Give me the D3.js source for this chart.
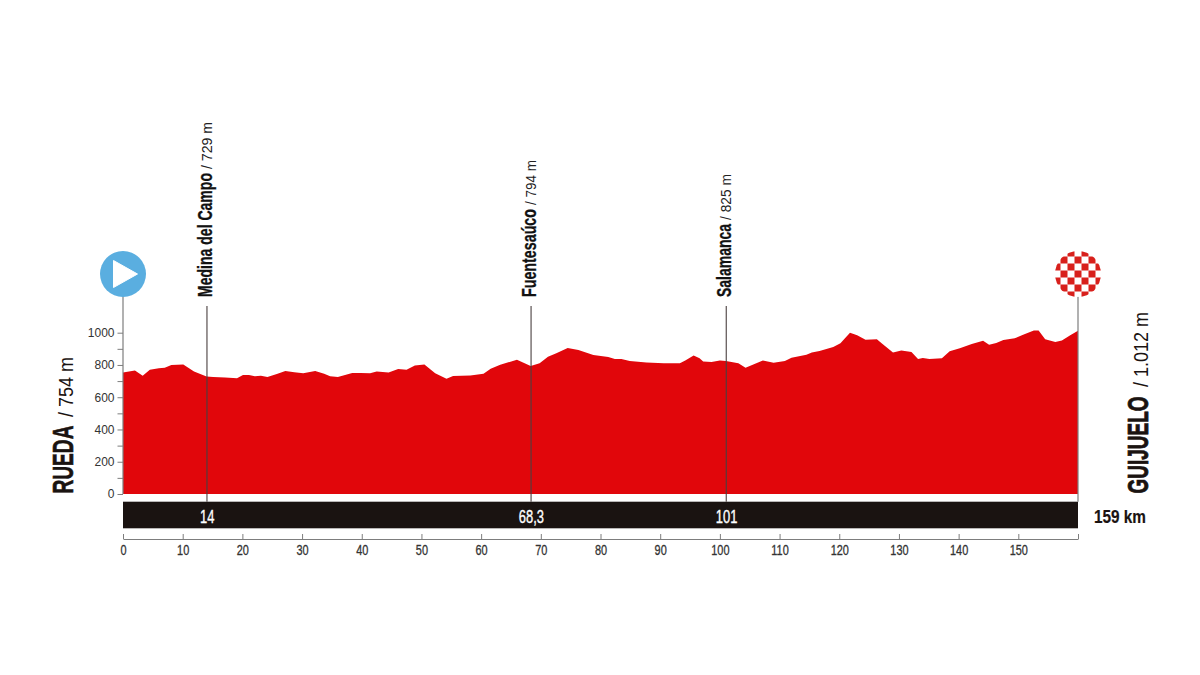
<!DOCTYPE html>
<html><head><meta charset="utf-8">
<script src="https://cdn.jsdelivr.net/npm/d3@7"></script>
<style>html,body{margin:0;padding:0;background:#fff}svg{display:block}text{font-family:"Liberation Sans",sans-serif}</style>
</head><body><svg id="c" width="1200" height="675"></svg>
<script>
const km=[0,2,3.3,4.5,6,7,8.1,10.1,11.9,14,15.1,17.1,19.1,20.1,21.1,22.1,23.1,24.2,25.9,27.2,28.7,30.2,32.2,33.7,34.7,36,38.4,39.8,41.4,42.5,44.5,46.1,47.5,48.9,50.5,52.3,54.2,55.3,58.2,60.4,61.6,63.2,66,68.3,69.8,71.2,72.6,74.5,76.3,78.8,81.3,82.4,83.5,84.9,87.7,90.6,93.3,94.2,95.6,96.6,97.2,98.6,100,101,103.1,104.3,105.7,107.2,109,110.9,112,114.5,115.4,116.7,119,120.2,121.8,123,124.4,126.3,127.1,129,130.4,132.1,133.2,134,135.1,137.2,138.5,140.2,142.2,144.1,145.1,146.3,147.5,149.4,150.8,152.6,153.4,154.5,156.2,157.3,158.7,160];
const elevation=[754,765,733,770,780,782,800,803,760,729,725,722,718,737,737,730,733,725,745,762,755,748,762,745,730,726,750,750,748,760,754,775,770,797,803,748,715,731,735,745,777,801,832,794,810,851,872,905,893,862,850,837,837,825,816,810,810,827,858,841,822,818,827,825,810,783,804,827,814,825,845,864,878,887,912,934,1000,984,957,959,934,878,890,880,837,843,837,841,885,903,930,950,925,936,954,965,988,1013,1013,959,943,951,984,1012];
const passKm=[14,68.3,101];
const passLabels=["14","68,3","101"];
const passNames=["Medina del Campo","Fuentesaúco","Salamanca"];
const passAlts=["/ 729 m","/ 794 m","/ 825 m"];
const passNameLen=[124,88,73];
const passAltLen=[47,45,46];
const kmTicks=d3.range(0,151,10).concat([160]);
const altTicks=d3.range(0,1001,100);
const startName="RUEDA",startAlt="/ 754 m",endName="GUIJUELO",endAlt="/ 1.012 m",totalLabel="159 km";

const RED="#e1060b",INK="#1a1311",GREY="#7d7d7d";
const x=d3.scaleLinear().domain([0,160]).range([123,1078]);
const y=d3.scaleLinear().domain([0,1000]).range([494,332.7]);
const svg=d3.select("#c");

svg.append("path").attr("fill",RED)
  .attr("d",d3.area().x((d,i)=>x(km[i])).y0(y(0)).y1(d=>y(d))(elevation));

svg.append("rect").attr("x",x(0)).attr("y",501.7).attr("width",x(160)-x(0)).attr("height",26.6).attr("fill",INK);

// y axis
const ya=svg.append("g").attr("transform",`translate(${x(0)},0)`)
  .call(d3.axisLeft(y).tickValues(altTicks).tickSize(5.5).tickPadding(3).tickFormat(d=>d%200===0?d:""));
ya.select(".domain").remove();
ya.selectAll("line").attr("stroke",GREY);
ya.selectAll("text").attr("fill","#333").style("font-size","12px");
svg.append("line").attr("x1",x(0)).attr("x2",x(0)).attr("y1",296).attr("y2",y(0)).attr("stroke",GREY).attr("stroke-width",1.2);
svg.append("line").attr("x1",x(160)).attr("x2",x(160)).attr("y1",296).attr("y2",501.7).attr("stroke",GREY).attr("stroke-width",1.2);

// x axis
const xa=svg.append("g").attr("transform","translate(0,539)")
  .call(d3.axisBottom(x).tickValues(kmTicks).tickSizeInner(-5).tickSizeOuter(0).tickPadding(6).tickFormat(d=>d===160?"":d));
xa.select(".domain").attr("stroke",GREY);
xa.selectAll("line").attr("stroke",GREY);
xa.selectAll("text").attr("fill","#333").attr("stroke","#333").attr("stroke-width",0.3)
  .attr("transform","scale(0.78,1)").style("font-size","14px").style("font-weight","400");

// helper: condensed text fitted to a measured length
function fitted(tx,ty,rot,str,size,len,weight,fill,heavy){
  return svg.append("text").attr("transform",`translate(${tx},${ty}) rotate(${rot})`)
    .attr("textLength",len).attr("lengthAdjust","spacingAndGlyphs")
    .attr("font-weight",weight).attr("fill",fill).attr("stroke",fill).attr("stroke-width",heavy)
    .style("font-size",size+"px").text(str);
}

// passes
passKm.forEach((k,i)=>{
  const px=x(k);
  svg.append("line").attr("x1",px+0.4).attr("x2",px+0.4).attr("y1",306).attr("y2",501.7).attr("stroke","#4a4040").attr("stroke-width",1.1);
  fitted(px+5.4,297,-90,passNames[i],20,passNameLen[i],700,"#111",0.3);
  fitted(px+5.4,297-passNameLen[i]-4,-90,passAlts[i],15,passAltLen[i],400,"#222",0);
  svg.append("text").attr("transform",`translate(${px+0.7},522.7) scale(0.72,1)`).attr("text-anchor","middle")
    .attr("fill","#fff").attr("stroke","#fff").attr("stroke-width",0.35).style("font-size","18px").text(passLabels[i]);
});

// side labels
fitted(73,493.5,-90,startName,29,68,700,INK,0.6);
fitted(73,417,-90,startAlt,21,60,400,INK,0);
fitted(1148,493.5,-90,endName,29,97,700,INK,0.8);
fitted(1148,387,-90,endAlt,21,75,400,INK,0);
fitted(1094,522.7,0,totalLabel,18,52,700,INK,0.2);

// start marker
const cy=274,r=23;
svg.append("circle").attr("cx",x(0)).attr("cy",cy).attr("r",r).attr("fill","#5aaee0");
svg.append("path").attr("fill","#fff").attr("stroke","#fff").attr("stroke-width",1).attr("stroke-linejoin","round")
  .attr("d",d3.line()([[x(0)-9.5,cy-13.5],[x(0)+14.5,cy],[x(0)-9.5,cy+13.5]])+"Z");

// finish marker
const cx=x(160),cell=7;
svg.append("defs").append("clipPath").attr("id","fc").append("circle").attr("cx",cx).attr("cy",cy).attr("r",r);
const g=svg.append("g").attr("clip-path","url(#fc)");
g.append("circle").attr("cx",cx).attr("cy",cy).attr("r",r).attr("fill","#fff");
d3.range(-4,5).forEach(a=>d3.range(-4,5).forEach(b=>{
  if((a+b+800)%2===0) g.append("rect").attr("x",cx+a*cell-cell/2).attr("y",cy+b*cell-cell/2).attr("width",cell).attr("height",cell).attr("fill","#d8201c");
}));
</script></body></html>
